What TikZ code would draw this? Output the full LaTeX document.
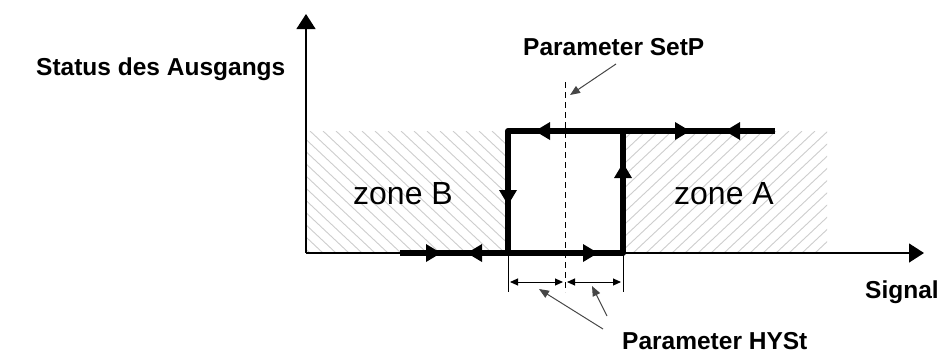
\documentclass[tikz,border=0pt]{standalone}
\usepackage{fontspec}
\setmainfont{Liberation Sans}
\usetikzlibrary{arrows.meta}
\definecolor{hatch}{RGB}{205,205,205}
\definecolor{ptr}{RGB}{70,70,70}
\tikzset{
  lbl/.style={font=\fontsize{24.5}{28}\selectfont\bfseries, inner sep=0pt, anchor=base west},
  zonelbl/.style={font=\fontsize{32}{36}\selectfont, inner sep=0pt, anchor=base west},
  axis/.style={line width=1.3pt, -{Triangle[length=15pt,width=19pt]}},
  thick loop/.style={line width=6pt, line join=round},
  hatchline/.style={draw=hatch, line width=0.9pt},
  ptrline/.style={draw=ptr, line width=1pt, -{Triangle[length=10pt,width=8pt]}},
  dimline/.style={line width=1pt, {Triangle[length=8pt,width=7pt]}-{Triangle[length=8pt,width=7pt]}},
}
\newcommand\tri[3]{\fill[shift={(#1,#2)},rotate=#3] (0,0) -- (-15,-9) -- (-15,9) -- cycle;}
\begin{document}
\begin{tikzpicture}[x=1pt,y=-1pt]
\useasboundingbox (0,0) rectangle (948,354);
% hatched zones
\begin{scope}
\clip (306,131) rectangle (505,253);
\foreach \x in {180,193,...,510} \draw[hatchline] (\x,131) -- (\x+130,253);
\end{scope}
\begin{scope}
\clip (625,131) rectangle (827,253);
\foreach \x in {490,503,...,830} \draw[hatchline] (\x,253) -- (\x+130,131);
\end{scope}
% coordinates
\coordinate (O) at (306,253);
\coordinate (ytop) at (306,14);
\coordinate (xend) at (924,253);
\coordinate (b0) at (400,253);
\coordinate (bl) at (508,253);
\coordinate (br) at (623,253);
\coordinate (tl) at (508,131);
\coordinate (tr) at (623,131);
\coordinate (t1) at (775,131);
% axes
\draw[axis] (O) -- (ytop);
\draw[axis] (O) -- (xend);
% dashed setpoint
\coordinate (d0) at (565,82);
\coordinate (d1) at (565,292);
\draw[line width=0.9pt, dash pattern=on 6pt off 4pt] (d0) -- (d1);
% thick loop
\draw[thick loop] (b0) -- (br) -- (tr);
\draw[thick loop] (t1) -- (tl) -- (bl);
% arrow heads on loop
\tri{441}{253}{0}
\tri{467}{253}{180}
\tri{598}{253}{0}
\tri{535}{131}{180}
\tri{690}{131}{0}
\tri{725}{131}{180}
\tri{508}{205}{-90}
\tri{623}{163}{90}
% dimension marks
\coordinate (k1) at (508,292);
\coordinate (k2) at (623,292);
\draw[line width=1pt] (bl) -- (k1);
\draw[line width=1pt] (br) -- (k2);
\coordinate (a1) at (510,282);
\coordinate (a2) at (563,282);
\coordinate (a3) at (567,282);
\coordinate (a4) at (621,282);
\draw[dimline] (a1) -- (a2);
\draw[dimline] (a3) -- (a4);
% labels
\node[lbl] (status) at (36,75) {Status des Ausgangs};
\node[lbl] (setp) at (523,55) {Parameter SetP};
\node[lbl] (signal) at (865,298) {Signal};
\node[lbl] (hyst) at (622,349) {Parameter HYSt};
\node[zonelbl] (zb) at (353,204) {zone B};
\node[zonelbl] (za) at (674,204) {zone A};
% pointers
\coordinate (p0) at (616,64);
\coordinate (p1) at (570,95);
\draw[ptrline] (p0) -- (p1);
\coordinate (h0) at (603,329);
\coordinate (h1) at (539,289);
\coordinate (h2) at (607,316);
\coordinate (h3) at (592,286);
\draw[ptrline] (h0) -- (h1);
\draw[ptrline] (h2) -- (h3);
\end{tikzpicture}
\end{document}
